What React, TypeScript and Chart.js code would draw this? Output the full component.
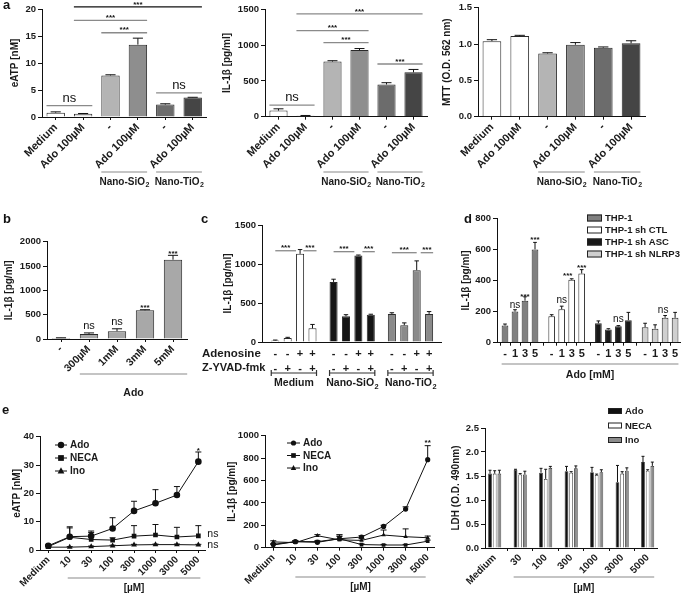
import React, { useEffect, useRef } from 'react';
import { Chart, registerables } from 'chart.js';

Chart.register(...registerables);

const FONT = "'Liberation Sans', Arial, Helvetica, sans-serif";
Chart.defaults.font.family = FONT;
Chart.defaults.color = '#1a1a1a';

// ---------------- Panel a ----------------
const aLabels = ['Medium', 'Ado 100µM', '-', 'Ado 100µM', '-', 'Ado 100µM'];
const aGroupNames = ['Nano-SiO', 'Nano-TiO'];
const a1Values = [0.8, 0.6, 7.7, 13.4, 2.3, 3.6];
const a1Errors = [0.15, 0.05, 0.12, 1.2, 0.15, 0.05];
const a2Values = [85, 12, 770, 930, 450, 620];
const a2Errors = [25, 5, 12, 22, 25, 40];
const a3Values = [1.04, 1.11, 0.87, 0.99, 0.95, 1.01];
const a3Errors = [0.02, 0.01, 0.01, 0.03, 0.01, 0.035];

// ---------------- Panel b ----------------
const bLabels = ['-', '300µM', '1mM', '3mM', '5mM'];
const bValues = [20, 105, 160, 590, 1630];
const bErrors = [5, 20, 50, 12, 90];

// ---------------- Panel c ----------------
const cGroups = ['Medium', 'Nano-SiO', 'Nano-TiO'];
const cAdenosine = ['-', '-', '+', '+'];
const cZyvad = ['-', '+', '-', '+'];
const cValues = [20, 50, 1130, 175, 770, 330, 1110, 350, 360, 215, 920, 360];
const cErrors = [5, 10, 55, 50, 35, 20, 5, 6, 15, 30, 120, 30];

// ---------------- Panel d ----------------
const dSeries = ['THP-1', 'THP-1 sh CTL', 'THP-1 sh ASC', 'THP-1 sh NLRP3'];
const dLevels = ['-', '1', '3', '5'];
const dValues = [
  [110, 200, 270, 600],
  [170, 215, 405, 445],
  [125, 85, 105, 145],
  [100, 90, 160, 160],
];
const dErrors = [
  [10, 12, 25, 45],
  [10, 20, 6, 25],
  [15, 5, 5, 50],
  [25, 25, 15, 35],
];

// ---------------- Panel e ----------------
const eLabels = ['Medium', '10', '30', '100', '300', '1000', '3000', '5000'];
const eSeries = ['Ado', 'NECA', 'Ino'];
const e1Values = [
  [1.5, 4.7, 4.9, 7.6, 13.8, 16.5, 19.4, 31.2],
  [1.2, 4.5, 3.7, 3.5, 4.9, 5.3, 4.6, 5.0],
  [1.0, 1.0, 1.2, 1.5, 1.8, 1.9, 1.9, 1.8],
];
const e1Errors = [
  [0.4, 3.5, 1.8, 3.8, 3.4, 4.8, 3.0, 3.4],
  [0.3, 3.3, 2.5, 0.8, 3.7, 3.7, 3.4, 3.6],
  [0.2, 0.2, 0.2, 0.2, 0.2, 0.2, 0.2, 0.2],
];
const e2Values = [
  [30, 54, 48, 80, 95, 190, 345, 786],
  [24, 54, 54, 80, 28, 24, 24, 58],
  [52, 45, 107, 70, 65, 113, 98, 89],
];
const e2Errors = [
  [8, 10, 8, 20, 12, 10, 20, 125],
  [5, 8, 8, 35, 6, 5, 5, 10],
  [10, 8, 10, 45, 15, 45, 70, 15],
];
const e3Labels = ['Medium', '30', '100', '300', '1000', '3000', '5000'];
const e3Values = [
  [1.55, 1.63, 1.57, 1.6, 1.58, 1.37, 1.79],
  [1.55, 1.53, 1.44, 1.57, 1.52, 1.55, 1.61],
  [1.55, 1.53, 1.67, 1.66, 1.58, 1.61, 1.71],
];
const e3Errors = [
  [0.07, 0.01, 0.09, 0.1, 0.1, 0.35, 0.12],
  [0.06, 0.02, 0.2, 0.02, 0.02, 0.04, 0.02],
  [0.07, 0.07, 0.03, 0.05, 0.05, 0.06, 0.08],
];

// ---------------- helpers ----------------
type Box = { x: number; y: number; w: number; h: number };
type Area = { left: number; top: number; right: number; bottom: number };
type Sig = { from: number; to: number; v: number; text: string; color?: string; a1?: number; a2?: number; size?: number };
type Mark = { at: number; v: number; text: string; size?: number; dx?: number; align?: CanvasTextAlign };
type Group = { from: number; to: number; y: number; ty: number; text: string; sub?: string; caps?: boolean; e1?: number; e2?: number; size?: number };
type Txt = { x: number; y: number; text: string; size?: number; align?: CanvasTextAlign };
type Leg = { x: number; y: number; dy: number; kind: 'box' | 'line'; w: number; h: number; size: number; r?: number };
type Spec = { sigs?: Sig[]; marks?: Mark[]; groups?: Group[]; texts?: Txt[]; legend?: Leg };

const TITLE_SIZE = 10;
const fnt = (size: number, weight = 'bold') => `${weight} ${size}px ${FONT}`;

function drawMarker(ctx: CanvasRenderingContext2D, style: string, x: number, y: number, r: number) {
  ctx.beginPath();
  if (style === 'rect') {
    ctx.rect(x - r * 0.9, y - r * 0.9, r * 1.8, r * 1.8);
  } else if (style === 'triangle') {
    ctx.moveTo(x, y - r * 1.15);
    ctx.lineTo(x + r * 1.05, y + r * 0.75);
    ctx.lineTo(x - r * 1.05, y + r * 0.75);
    ctx.closePath();
  } else {
    ctx.arc(x, y, r, 0, Math.PI * 2);
  }
  ctx.fill();
}

function annotPlugin(box: Box, spec: Spec) {
  return {
    id: 'annot',
    afterDatasetsDraw(chart: any) {
      const ctx: CanvasRenderingContext2D = chart.ctx;
      const ys = chart.scales.y;
      const els: { x: number; w: number }[] = [];
      ctx.save();
      ctx.lineWidth = 1;
      chart.data.datasets.forEach((ds: any, di: number) => {
        const meta = chart.getDatasetMeta(di);
        meta.data.forEach((el: any, i: number) => {
          const w = el.width || 0;
          els.push({ x: el.x, w });
          const err = ds.errors ? ds.errors[i] : 0;
          if (!err) return;
          const raw = ds.data[i];
          const v = typeof raw === 'number' ? raw : raw.y;
          const y0 = ys.getPixelForValue(v);
          const y1 = ys.getPixelForValue(v + err);
          const cap = w ? Math.max(w * 0.55, 3) : 6;
          ctx.strokeStyle = '#111';
          ctx.beginPath();
          ctx.moveTo(el.x, y0);
          ctx.lineTo(el.x, y1);
          ctx.moveTo(el.x - cap / 2, y1);
          ctx.lineTo(el.x + cap / 2, y1);
          ctx.stroke();
        });
      });
      const say = (t: string, x: number, y: number, size?: number) => {
        const star = t.includes('*');
        ctx.font = star ? fnt(size || 8) : fnt(size || 12, 'normal');
        ctx.fillStyle = '#111';
        ctx.fillText(t, x, star ? y + 2.5 : y);
      };
      (spec.sigs || []).forEach((s) => {
        const a = els[s.from];
        const b = els[s.to];
        const x1 = a.x + (s.a1 ?? -0.5) * a.w;
        const x2 = b.x + (s.a2 ?? 0.5) * b.w;
        const y = ys.getPixelForValue(s.v);
        ctx.strokeStyle = s.color || '#8a8a8a';
        ctx.lineWidth = 1.3;
        ctx.beginPath();
        ctx.moveTo(x1, y);
        ctx.lineTo(x2, y);
        ctx.stroke();
        ctx.textAlign = 'center';
        ctx.textBaseline = 'bottom';
        say(s.text, (x1 + x2) / 2, y - 1, s.size);
      });
      (spec.marks || []).forEach((m) => {
        const e = els[m.at];
        ctx.textAlign = m.align || 'center';
        ctx.textBaseline = 'middle';
        say(m.text, e.x + (m.dx || 0), ys.getPixelForValue(m.v), m.size);
      });
      (spec.groups || []).forEach((g) => {
        const a = els[g.from];
        const b = els[g.to];
        const x1 = a.x - a.w / 2 + (g.e1 || 0);
        const x2 = b.x + b.w / 2 + (g.e2 || 0);
        const y = g.y - box.y;
        ctx.strokeStyle = g.caps ? '#333' : '#8a8a8a';
        ctx.lineWidth = 1.2;
        ctx.beginPath();
        ctx.moveTo(x1, y);
        ctx.lineTo(x2, y);
        if (g.caps) {
          ctx.moveTo(x1, y - 3);
          ctx.lineTo(x1, y + 3);
          ctx.moveTo(x2, y - 3);
          ctx.lineTo(x2, y + 3);
        }
        ctx.stroke();
        const size = g.size || 10;
        ctx.font = fnt(size);
        const w1 = ctx.measureText(g.text).width;
        ctx.font = fnt(size * 0.7);
        const w2 = g.sub ? ctx.measureText(g.sub).width : 0;
        const x0 = (x1 + x2) / 2 - (w1 + w2) / 2;
        const ty = g.ty - box.y;
        ctx.fillStyle = '#1a1a1a';
        ctx.textAlign = 'left';
        ctx.textBaseline = 'middle';
        ctx.font = fnt(size);
        ctx.fillText(g.text, x0, ty);
        if (g.sub) {
          ctx.font = fnt(size * 0.7);
          ctx.fillText(g.sub, x0 + w1 + 0.5, ty + size * 0.35);
        }
      });
      (spec.texts || []).forEach((t) => {
        ctx.font = fnt(t.size || 10);
        ctx.fillStyle = '#1a1a1a';
        ctx.textAlign = t.align || 'left';
        ctx.textBaseline = 'middle';
        ctx.fillText(t.text, t.x - box.x, t.y - box.y);
      });
      const L = spec.legend;
      if (L) {
        chart.data.datasets.forEach((ds: any, i: number) => {
          const x = L.x - box.x;
          const y = L.y - box.y + i * L.dy;
          if (L.kind === 'box') {
            ctx.fillStyle = ds.backgroundColor;
            ctx.fillRect(x, y - L.h / 2, L.w, L.h);
            ctx.strokeStyle = '#222';
            ctx.lineWidth = 1;
            ctx.strokeRect(x + 0.5, y - L.h / 2 + 0.5, L.w - 1, L.h - 1);
          } else {
            ctx.strokeStyle = '#111';
            ctx.lineWidth = 1;
            ctx.beginPath();
            ctx.moveTo(x, y);
            ctx.lineTo(x + L.w, y);
            ctx.stroke();
            ctx.fillStyle = '#111';
            drawMarker(ctx, ds.pointStyle, x + L.w / 2, y, L.r || 3);
          }
          ctx.font = fnt(L.size);
          ctx.fillStyle = '#1a1a1a';
          ctx.textAlign = 'left';
          ctx.textBaseline = 'middle';
          ctx.fillText(ds.label, x + L.w + 3, y + 0.5);
        });
      }
      ctx.restore();
    },
  };
}

function baseOptions(box: Box, area: Area, titleX: number, yTitle: string, yMax: number, yStep: number, dec: number) {
  const padLeft = Math.max(0, titleX - box.x - TITLE_SIZE * 0.6);
  return {
    responsive: false,
    maintainAspectRatio: false,
    animation: false,
    layout: { padding: { left: padLeft, top: area.top - box.y, right: box.x + box.w - area.right, bottom: 0 } },
    plugins: { legend: { display: false }, tooltip: { enabled: false } },
    scales: {
      y: {
        min: 0,
        max: yMax,
        ticks: {
          stepSize: yStep,
          font: { size: 9.5, weight: 'bold' },
          color: '#1a1a1a',
          padding: 2,
          callback: (v: any) => (dec ? Number(v).toFixed(dec) : String(v)),
        },
        grid: { display: true, drawOnChartArea: false, drawTicks: true, tickLength: 4, color: '#111', lineWidth: 1 },
        border: { display: true, color: '#111', width: 1 },
        title: { display: true, text: yTitle, font: { size: TITLE_SIZE, weight: 'bold' }, color: '#1a1a1a', padding: 0 },
        afterFit: (s: any) => {
          s.width = area.left - box.x - padLeft;
        },
      },
    } as any,
  };
}

function xFit(box: Box, area: Area) {
  return (s: any) => {
    s.height = box.y + box.h - area.bottom;
  };
}

function categoryX(box: Box, area: Area, size = 11) {
  return {
    type: 'category',
    offset: true,
    grid: { display: true, drawOnChartArea: false, drawTicks: true, tickLength: 3, color: '#111', offset: false },
    border: { display: true, color: '#111', width: 1 },
    ticks: { font: { size, weight: 'bold' }, color: '#1a1a1a', minRotation: 45, maxRotation: 45, autoSkip: false, padding: 1 },
    afterFit: xFit(box, area),
  };
}

function linearX(box: Box, area: Area, min: number, max: number, xs: number[], labels: (i: number) => any, rot: number, size: number, opts: any = {}) {
  return {
    type: 'linear',
    min,
    max,
    offset: false,
    afterBuildTicks: (s: any) => {
      s.ticks = xs.map((v) => ({ value: v }));
    },
    grid: { display: true, drawOnChartArea: false, drawTicks: opts.drawTicks ?? true, tickLength: 3, color: '#111' },
    border: { display: true, color: '#111', width: 1 },
    ticks: {
      font: { size, weight: 'bold', lineHeight: opts.lineHeight ?? 1.2 },
      color: '#1a1a1a',
      minRotation: rot,
      maxRotation: rot,
      autoSkip: false,
      padding: opts.padding ?? 1,
      callback: (_v: any, i: number) => labels(i),
    },
    afterFit: xFit(box, area),
  };
}

// ---------------- geometry ----------------
const A1_BOX: Box = { x: 0, y: 0, w: 226, h: 196 };
const A2_BOX: Box = { x: 213, y: 0, w: 226, h: 196 };
const A3_BOX: Box = { x: 437, y: 0, w: 248, h: 196 };
const B_BOX: Box = { x: 0, y: 200, w: 205, h: 200 };
const C_BOX: Box = { x: 196, y: 200, w: 252, h: 196 };
const D_BOX: Box = { x: 455, y: 200, w: 230, h: 196 };
const E1_BOX: Box = { x: 0, y: 400, w: 222, h: 194 };
const E2_BOX: Box = { x: 222, y: 400, w: 230, h: 194 };
const E3_BOX: Box = { x: 445, y: 400, w: 240, h: 194 };

const aGroupSpec = (): Group[] => [
  { from: 2, to: 3, y: 172, ty: 182, text: aGroupNames[0], sub: '2' },
  { from: 4, to: 5, y: 172, ty: 182, text: aGroupNames[1], sub: '2' },
];

function makeA(box: Box, area: Area, titleX: number, title: string, values: number[], errors: number[], colors: string[], yMax: number, yStep: number, dec: number, sigs: Sig[]) {
  return () => {
    const options: any = baseOptions(box, area, titleX, title, yMax, yStep, dec);
    options.scales.x = categoryX(box, area);
    return {
      type: 'bar',
      data: {
        labels: aLabels,
        datasets: [{ data: values, errors, backgroundColor: colors, borderColor: '#2a2a2a', borderWidth: 1, categoryPercentage: 0.8, barPercentage: 0.84 }],
      },
      options,
      plugins: [annotPlugin(box, { sigs, groups: aGroupSpec() })],
    };
  };
}

const makeA1 = makeA(
  A1_BOX, { left: 42, top: 9, right: 206.4, bottom: 117 }, 15, 'eATP [nM]', a1Values, a1Errors,
  ['#ffffff', '#dedede', '#b4b4b4', '#8e8e8e', '#6c6c6c', '#454545'], 20, 5, 0,
  [
    { from: 0, to: 1, v: 2.1, text: 'ns', size: 13 },
    { from: 4, to: 5, v: 4.45, text: 'ns', size: 13 },
    { from: 2, to: 3, v: 15.6, text: '***' },
    { from: 1, to: 3, v: 17.9, text: '***' },
    { from: 1, to: 5, v: 20.4, text: '***', color: '#111' },
  ]
);
const makeA2 = makeA(
  A2_BOX, { left: 265, top: 9.3, right: 427, bottom: 116.7 }, 227, 'IL-1β [pg/ml]', a2Values, a2Errors,
  ['#ffffff', '#f4f4f4', '#b4b4b4', '#8e8e8e', '#6c6c6c', '#454545'], 1500, 500, 0,
  [
    { from: 0, to: 1, v: 163, text: 'ns', size: 13 },
    { from: 2, to: 3, v: 1034, text: '***' },
    { from: 1, to: 3, v: 1202, text: '***' },
    { from: 1, to: 5, v: 1435, text: '***' },
    { from: 4, to: 5, v: 736, text: '***' },
  ]
);
const makeA3 = makeA(
  A3_BOX, { left: 478, top: 5, right: 645, bottom: 116.7 }, 447, 'MTT (O.D. 562 nm)', a3Values, a3Errors,
  ['#ffffff', '#ffffff', '#b4b4b4', '#8e8e8e', '#6c6c6c', '#454545'], 1.5, 0.5, 1, []
);

const B_AREA: Area = { left: 47, top: 241.7, right: 187, bottom: 339 };
function makeB() {
  const options: any = baseOptions(B_BOX, B_AREA, 9, 'IL-1β [pg/ml]', 2000, 500, 0);
  options.scales.x = categoryX(B_BOX, B_AREA, 10.5);
  return {
    type: 'bar',
    data: {
      labels: bLabels,
      datasets: [{ data: bValues, errors: bErrors, backgroundColor: '#a8a8a8', borderColor: '#2a2a2a', borderWidth: 1, categoryPercentage: 0.8, barPercentage: 0.82 }],
    },
    options,
    plugins: [
      annotPlugin(B_BOX, {
        marks: [
          { at: 1, v: 267, text: 'ns', size: 11 },
          { at: 2, v: 350, text: 'ns', size: 11 },
          { at: 3, v: 700, text: '***' },
          { at: 4, v: 1810, text: '***' },
        ],
        groups: [{ from: 1, to: 4, y: 374, ty: 393, text: 'Ado', e2: 5, size: 10.5 }],
      }),
    ],
  };
}

const C_AREA: Area = { left: 262, top: 225, right: 441.5, bottom: 342 };
const C_GAP = 4.7;
function makeC() {
  const xs: number[] = [];
  const lab: string[][] = [];
  const colors: string[] = [];
  const groupColors = ['#ffffff', '#151515', '#8a8a8a'];
  cGroups.forEach((_, g) => cAdenosine.forEach((a, i) => {
    xs.push(g * C_GAP + i);
    lab.push([a, cZyvad[i]]);
    colors.push(groupColors[g]);
  }));
  const options: any = baseOptions(C_BOX, C_AREA, 228, 'IL-1β [pg/ml]', 1500, 500, 0);
  options.scales.x = linearX(C_BOX, C_AREA, -1.07, 13.4, xs, (i) => lab[i], 0, 11, { drawTicks: false, lineHeight: 1.32, padding: 5 });
  return {
    type: 'bar',
    data: {
      datasets: [{ data: xs.map((x, i) => ({ x, y: cValues[i] })), errors: cErrors, backgroundColor: colors, borderColor: '#2a2a2a', borderWidth: 1, categoryPercentage: 1, barPercentage: 0.65 }],
    },
    options,
    plugins: [
      annotPlugin(C_BOX, {
        sigs: [
          { from: 0, to: 2, v: 1170, text: '***', a1: 0, a2: -0.5 },
          { from: 2, to: 3, v: 1170, text: '***', a1: 0.4, a2: 0.5 },
          { from: 4, to: 6, v: 1158, text: '***', a1: 0, a2: -0.5 },
          { from: 6, to: 7, v: 1158, text: '***', a1: 0.5, a2: 0.5 },
          { from: 8, to: 10, v: 1145, text: '***', a1: 0, a2: 0 },
          { from: 10, to: 11, v: 1145, text: '***', a1: 0.5, a2: 0.5 },
        ],
        groups: [
          { from: 0, to: 3, y: 373, ty: 383, text: cGroups[0], caps: true, size: 10.5 },
          { from: 4, to: 7, y: 373, ty: 383, text: cGroups[1], sub: '2', caps: true, size: 10.5 },
          { from: 8, to: 11, y: 373, ty: 383, text: cGroups[2], sub: '2', caps: true, size: 10.5 },
        ],
        texts: [
          { x: 202, y: 354, text: 'Adenosine', size: 11.5 },
          { x: 202, y: 368, text: 'Z-YVAD-fmk', size: 11 },
        ],
      }),
    ],
  };
}

const D_AREA: Area = { left: 497, top: 218.3, right: 680, bottom: 342.7 };
const D_GAP = 4.67;
function makeD() {
  const xs: number[] = [];
  const lab: string[] = [];
  dSeries.forEach((_, g) => dLevels.forEach((l, i) => {
    xs.push(g * D_GAP + i);
    lab.push(l);
  }));
  const colors = ['#808080', '#ffffff', '#181818', '#cfcfcf'];
  const options: any = baseOptions(D_BOX, D_AREA, 466, 'IL-1β [pg/ml]', 800, 200, 0);
  options.scales.x = linearX(D_BOX, D_AREA, -0.8, 17.5, xs, (i) => lab[i], 0, 11, { padding: 2 });
  return {
    type: 'bar',
    data: {
      datasets: dSeries.map((name, g) => ({
        label: name,
        data: dLevels.map((_, i) => ({ x: g * D_GAP + i, y: dValues[g][i] })),
        errors: dErrors[g],
        backgroundColor: colors[g],
        borderColor: '#2a2a2a',
        borderWidth: 1,
        grouped: false,
        categoryPercentage: 1,
        barPercentage: 0.67,
      })),
    },
    options,
    plugins: [
      annotPlugin(D_BOX, {
        marks: [
          { at: 1, v: 242, text: 'ns', size: 10 },
          { at: 2, v: 313, text: '***' },
          { at: 3, v: 680, text: '***' },
          { at: 5, v: 275, text: 'ns', size: 10 },
          { at: 6, v: 448, text: '***', dx: -4 },
          { at: 7, v: 500, text: '***' },
          { at: 10, v: 152, text: 'ns', size: 10 },
          { at: 14, v: 210, text: 'ns', size: 10, dx: -2 },
        ],
        groups: [{ from: 0, to: 15, y: 364, ty: 375, text: 'Ado [mM]', size: 10.5 }],
        legend: { x: 587, y: 218, dy: 12, kind: 'box', w: 15, h: 7, size: 9.5 },
      }),
    ],
  };
}

const POINT_STYLES = ['circle', 'rect', 'triangle'];
function makeE(box: Box, area: Area, titleX: number, title: string, yMax: number, yStep: number, values: number[][], errors: number[][], xmin: number, xmax: number, r: number, spec: Spec) {
  return () => {
    const xs = eLabels.map((_, i) => i);
    const options: any = baseOptions(box, area, titleX, title, yMax, yStep, 0);
    options.scales.x = linearX(box, area, xmin, xmax, xs, (i) => eLabels[i], 45, 10);
    return {
      type: 'line',
      data: {
        datasets: eSeries.map((name, s) => ({
          label: name,
          data: xs.map((x) => ({ x, y: values[s][x] })),
          errors: errors[s],
          borderColor: '#111',
          backgroundColor: '#111',
          borderWidth: 1,
          pointStyle: POINT_STYLES[s],
          pointRadius: r,
          pointBorderWidth: 0,
          tension: 0,
          fill: false,
        })),
      },
      options,
      plugins: [annotPlugin(box, spec)],
    };
  };
}

const makeE1 = makeE(
  E1_BOX, { left: 40, top: 436.7, right: 205, bottom: 550 }, 17, 'eATP [nM]', 40, 10, e1Values, e1Errors, -0.387, 7.31, 3.3,
  {
    marks: [
      { at: 7, v: 36, text: '*' },
      { at: 15, v: 5.5, text: 'ns', size: 10.5, dx: 9, align: 'left' },
      { at: 23, v: 1.8, text: 'ns', size: 10.5, dx: 9, align: 'left' },
    ],
    groups: [{ from: 1, to: 7, y: 578, ty: 588, text: '[µM]', e1: -2, e2: 2 }],
    legend: { x: 55, y: 445, dy: 13, kind: 'line', w: 12, h: 0, size: 10, r: 3.2 },
  }
);
const makeE2 = makeE(
  E2_BOX, { left: 265, top: 435.7, right: 434.3, bottom: 547.7 }, 232, 'IL-1β [pg/ml]', 1000, 200, e2Values, e2Errors, -0.376, 7.3, 2.6,
  {
    marks: [{ at: 7, v: 962, text: '**' }],
    groups: [{ from: 1, to: 7, y: 577, ty: 587, text: '[µM]', e2: -2 }],
    legend: { x: 287, y: 443, dy: 12.5, kind: 'line', w: 13, h: 0, size: 10, r: 2.6 },
  }
);

const E3_AREA: Area = { left: 485, top: 428, right: 657.1, bottom: 548 };
function makeE3() {
  const xs = e3Labels.map((_, i) => i);
  const colors = ['#111111', '#ffffff', '#8c8c8c'];
  const options: any = baseOptions(E3_BOX, E3_AREA, 456, 'LDH (O.D. 490nm)', 2.5, 0.5, 1);
  options.scales.x = linearX(E3_BOX, E3_AREA, -0.38, 6.37, xs, (i) => e3Labels[i], 45, 10);
  return {
    type: 'bar',
    data: {
      datasets: eSeries.map((name, s) => ({
        label: name,
        data: xs.map((x) => ({ x, y: e3Values[s][x] })),
        errors: e3Errors[s],
        backgroundColor: colors[s],
        borderColor: '#2a2a2a',
        borderWidth: 0.8,
        categoryPercentage: 0.55,
        barPercentage: 0.8,
      })),
    },
    options,
    plugins: [
      annotPlugin(E3_BOX, {
        groups: [{ from: 1, to: 20, y: 577, ty: 588, text: '[µM]' }],
        legend: { x: 608, y: 411, dy: 14.5, kind: 'box', w: 14, h: 6, size: 9.5 },
      }),
    ],
  };
}

// ---------------- components ----------------
function Panel({ box, make }: { box: Box; make: () => any }) {
  const ref = useRef<HTMLCanvasElement>(null);
  useEffect(() => {
    const chart = new Chart(ref.current as HTMLCanvasElement, make());
    return () => chart.destroy();
  }, []);
  return (
    <canvas
      ref={ref}
      width={box.w}
      height={box.h}
      style={{ position: 'absolute', left: box.x, top: box.y, width: box.w, height: box.h }}
    />
  );
}

const LETTERS = [
  { t: 'a', x: 3, y: -2 },
  { t: 'b', x: 3, y: 212 },
  { t: 'c', x: 201, y: 212 },
  { t: 'd', x: 464, y: 212 },
  { t: 'e', x: 2, y: 403 },
];

export default function App() {
  return (
    <div style={{ position: 'absolute', left: 0, top: 0, width: 685, height: 594, background: '#fff', overflow: 'hidden', fontFamily: FONT }}>
      <Panel box={A1_BOX} make={makeA1} />
      <Panel box={A2_BOX} make={makeA2} />
      <Panel box={A3_BOX} make={makeA3} />
      <Panel box={B_BOX} make={makeB} />
      <Panel box={C_BOX} make={makeC} />
      <Panel box={D_BOX} make={makeD} />
      <Panel box={E1_BOX} make={makeE1} />
      <Panel box={E2_BOX} make={makeE2} />
      <Panel box={E3_BOX} make={makeE3} />
      {LETTERS.map((l) => (
        <div key={l.t} style={{ position: 'absolute', left: l.x, top: l.y, fontSize: 13, lineHeight: '13px', fontWeight: 'bold', color: '#111' }}>
          {l.t}
        </div>
      ))}
    </div>
  );
}
